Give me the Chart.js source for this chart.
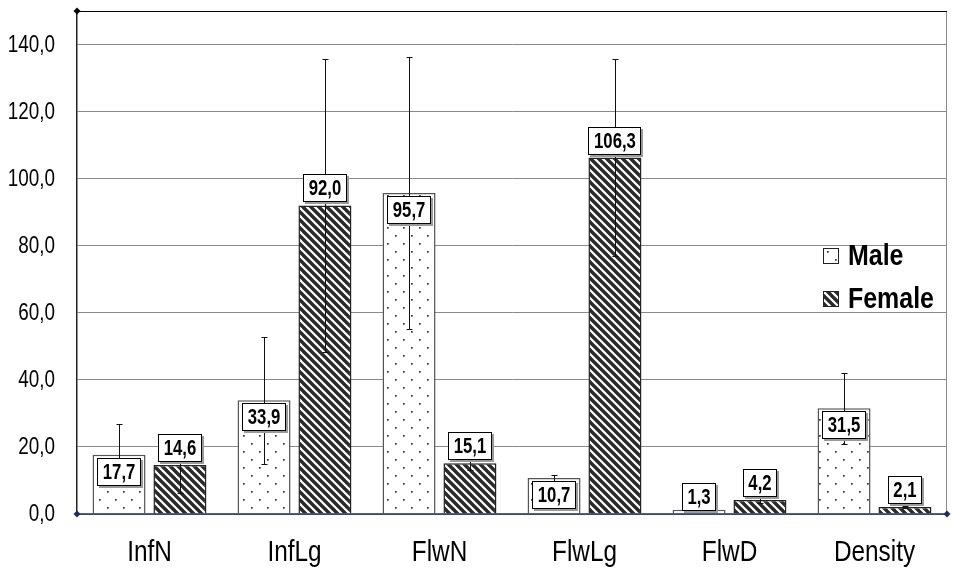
<!DOCTYPE html>
<html>
<head>
<meta charset="utf-8">
<script src="https://cdn.jsdelivr.net/npm/chart.js@4.4.0/dist/chart.umd.min.js"></script>
<style>
html,body{margin:0;padding:0;background:#fff;}
#wrap{width:953px;height:572px;}
</style>
</head>
<body>
<div id="wrap"><canvas id="c" width="953" height="572"></canvas></div>
<script>
const categories = ['InfN', 'InfLg', 'FlwN', 'FlwLg', 'FlwD', 'Density'];
const maleValues = [17.7, 33.9, 95.7, 10.7, 1.3, 31.5];
const femaleValues = [14.6, 92.0, 15.1, 106.3, 4.2, 2.1];
const maleErrors = [9.1, 19.0, 40.5, 0.9, 0.3, 10.5];
const femaleErrors = [8.4, 43.8, 2.0, 29.5, 0.9, 0.3];
const yTicks = [0, 20, 40, 60, 80, 100, 120, 140];
const seriesNames = ['Male', 'Female'];

const FONT = "'Liberation Sans', Arial, sans-serif";
const fmt = v => v.toFixed(1).replace('.', ',');

function narrowText(ctx, txt, x, y, font, sx, align, baseline) {
  ctx.save();
  ctx.font = font;
  ctx.textAlign = align;
  ctx.textBaseline = baseline;
  ctx.translate(x, y);
  ctx.scale(sx, 1);
  ctx.fillText(txt, 0, 0);
  ctx.restore();
}
function narrowWidth(ctx, txt, font, sx) {
  ctx.save();
  ctx.font = font;
  const w = ctx.measureText(txt).width * sx;
  ctx.restore();
  return w;
}

function dotPattern() {
  const c = document.createElement('canvas');
  c.width = 16; c.height = 16;
  const g = c.getContext('2d');
  g.fillStyle = '#fff'; g.fillRect(0, 0, 16, 16);
  g.fillStyle = '#333';
  g.fillRect(3, 3, 1.7, 1.7);
  g.fillRect(11, 11, 1.7, 1.7);
  return g.createPattern(c, 'repeat');
}
function stripePattern() {
  const s = 8;
  const c = document.createElement('canvas');
  c.width = s; c.height = s;
  const g = c.getContext('2d');
  g.fillStyle = '#fff'; g.fillRect(0, 0, s, s);
  g.strokeStyle = '#2a2a2a'; g.lineWidth = 3.4;
  for (let k = -1; k <= 1; k++) {
    g.beginPath();
    g.moveTo(k * s - 1, -1);
    g.lineTo(k * s + s + 1, s + 1);
    g.stroke();
  }
  return g.createPattern(c, 'repeat');
}
const maleFill = dotPattern();
const femaleFill = stripePattern();

const axisText = {
  id: 'axisText',
  afterDraw(chart) {
    const ctx = chart.ctx;
    const xs = chart.scales.x, ys = chart.scales.y;
    ctx.save();
    ctx.fillStyle = '#000';
    yTicks.forEach(v => {
      narrowText(ctx, fmt(v), 55, ys.getPixelForValue(v) + 1, "23px " + FONT, 0.82, 'right', 'middle');
    });
    categories.forEach((c, i) => {
      narrowText(ctx, c, xs.getPixelForTick(i), 561, "29px " + FONT, 0.84, 'center', 'alphabetic');
    });
    ctx.restore();
  }
};

const errorBars = {
  id: 'errorBars',
  afterDatasetsDraw(chart) {
    const ctx = chart.ctx;
    const y = chart.scales.y;
    const errs = [maleErrors, femaleErrors];
    ctx.save();
    ctx.strokeStyle = '#111';
    ctx.lineWidth = 1;
    chart.data.datasets.forEach((ds, di) => {
      const meta = chart.getDatasetMeta(di);
      meta.data.forEach((el, i) => {
        const v = ds.data[i], e = errs[di][i];
        const x = Math.round(el.x) + 0.5;
        const yt = Math.round(y.getPixelForValue(v + e)) + 0.5;
        const yb = Math.round(y.getPixelForValue(Math.max(0, v - e))) + 0.5;
        ctx.beginPath();
        ctx.moveTo(x, yt); ctx.lineTo(x, yb);
        ctx.moveTo(x - 3, yt); ctx.lineTo(x + 3, yt);
        ctx.moveTo(x - 3, yb); ctx.lineTo(x + 3, yb);
        ctx.stroke();
      });
    });
    ctx.restore();
  }
};

const valueLabels = {
  id: 'valueLabels',
  afterDatasetsDraw(chart) {
    const ctx = chart.ctx;
    const font = "bold 22px " + FONT;
    const sx = 0.76;
    const h = 28;
    ctx.save();
    chart.data.datasets.forEach((ds, di) => {
      const meta = chart.getDatasetMeta(di);
      meta.data.forEach((el, i) => {
        const txt = fmt(ds.data[i]);
        const w = Math.round(narrowWidth(ctx, txt, font, sx)) + 11;
        let top;
        if (di === 0) {
          top = Math.min(el.y + 3, el.base - 3 - h);
        } else {
          top = el.y - 3 - h;
        }
        top = Math.round(top);
        const left = Math.round(el.x - w / 2);
        ctx.fillStyle = '#9a9a9a';
        ctx.fillRect(left + 2, top + 2, w, h);
        ctx.fillStyle = '#fff';
        ctx.fillRect(left, top, w, h);
        ctx.strokeStyle = '#000';
        ctx.lineWidth = 1;
        ctx.strokeRect(left + 0.5, top + 0.5, w - 1, h - 1);
        ctx.fillStyle = '#000';
        narrowText(ctx, txt, el.x, top + h / 2 + 1, font, sx, 'center', 'middle');
      });
    });
    ctx.restore();
  }
};

const frame = {
  id: 'frame',
  afterDraw(chart) {
    const ctx = chart.ctx;
    const a = chart.chartArea;
    ctx.save();
    ctx.strokeStyle = '#888';
    ctx.lineWidth = 1;
    ctx.beginPath();
    ctx.moveTo(a.right - 0.5, a.top); ctx.lineTo(a.right - 0.5, a.bottom);
    ctx.stroke();
    ctx.strokeStyle = '#000';
    ctx.beginPath();
    ctx.moveTo(a.left, a.top + 0.5); ctx.lineTo(a.right, a.top + 0.5);
    ctx.stroke();
    ctx.strokeStyle = '#1f2f66';
    ctx.lineWidth = 1.5;
    ctx.beginPath();
    ctx.moveTo(a.left, a.bottom); ctx.lineTo(a.right, a.bottom);
    ctx.stroke();
    const dia = (x, y, col) => {
      ctx.fillStyle = col;
      ctx.beginPath();
      ctx.moveTo(x, y - 3.5); ctx.lineTo(x + 3.5, y); ctx.lineTo(x, y + 3.5); ctx.lineTo(x - 3.5, y);
      ctx.closePath(); ctx.fill();
    };
    dia(a.left, a.top, '#000');
    dia(a.left, a.bottom, '#1f2f66');
    dia(a.right, a.bottom, '#1f2f66');

    const fills = [maleFill, femaleFill];
    const rows = [256, 299];
    chart.data.datasets.forEach((ds, di) => {
      const cy = rows[di];
      ctx.fillStyle = fills[di];
      ctx.fillRect(823, cy - 8, 16, 16);
      ctx.strokeStyle = '#222';
      ctx.lineWidth = 1;
      ctx.strokeRect(823.5, cy - 7.5, 15, 15);
      ctx.fillStyle = '#000';
      narrowText(ctx, ds.label, 848, cy + 1, "bold 29px " + FONT, 0.86, 'left', 'middle');
    });
    ctx.restore();
  }
};

new Chart(document.getElementById('c'), {
  type: 'bar',
  data: {
    labels: categories,
    datasets: [
      {
        label: seriesNames[0],
        data: maleValues,
        backgroundColor: maleFill,
        borderColor: '#555',
        borderWidth: 1.5,
        borderSkipped: 'bottom'
      },
      {
        label: seriesNames[1],
        data: femaleValues,
        backgroundColor: femaleFill,
        borderColor: '#222',
        borderWidth: 1.5,
        borderSkipped: 'bottom'
      }
    ]
  },
  options: {
    responsive: false,
    animation: false,
    devicePixelRatio: 1,
    categoryPercentage: 0.84,
    barPercentage: 0.87,
    layout: { padding: { top: 11, right: 6, left: 0, bottom: 0 } },
    plugins: {
      legend: { display: false },
      tooltip: { enabled: false }
    },
    scales: {
      x: {
        grid: { display: false, drawTicks: false },
        border: { display: false },
        ticks: { display: false },
        afterFit(s) { s.height = 58; }
      },
      y: {
        min: 0,
        max: 150,
        afterBuildTicks(s) {
          s.ticks = yTicks.concat([150]).map(v => ({ value: v }));
        },
        ticks: { display: false },
        grid: {
          drawTicks: false,
          color: ctx => (ctx.tick && ctx.tick.value === 150 ? 'rgba(0,0,0,0)' : '#8a8a8a'),
          lineWidth: 1
        },
        border: { color: '#222', width: 1.5 },
        afterFit(s) { s.width = 77; }
      }
    }
  },
  plugins: [errorBars, valueLabels, frame, axisText]
});
</script>
</body>
</html>
